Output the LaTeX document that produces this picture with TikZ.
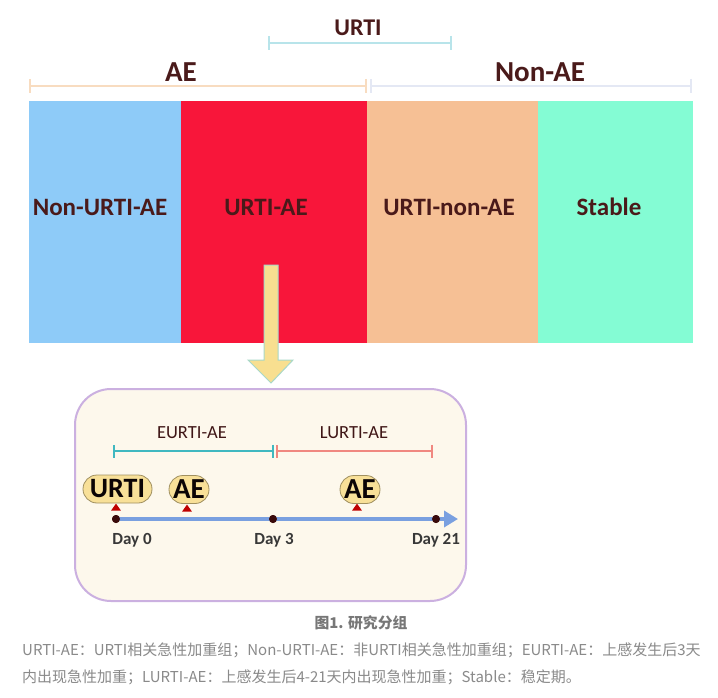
\documentclass[tikz,border=0pt]{standalone}
\usepackage{fontspec}
\setmainfont{Carlito}
\newfontfamily\cjk{Noto Sans CJK SC}
\usetikzlibrary{arrows.meta,shapes.misc,shapes.geometric}
\definecolor{lbl}{HTML}{4A1A1A}
\definecolor{cBlue}{HTML}{8ECBF8}
\definecolor{cRed}{HTML}{F8163A}
\definecolor{cPeach}{HTML}{F6C095}
\definecolor{cMint}{HTML}{84FCD4}
\definecolor{brUrti}{HTML}{B8E4EA}
\definecolor{brAE}{HTML}{F8DCC0}
\definecolor{brNon}{HTML}{E4E8F4}
\definecolor{arrFill}{HTML}{F8DF90}
\definecolor{arrDraw}{HTML}{A8D8C8}
\definecolor{boxFill}{HTML}{FDF8EC}
\definecolor{boxDraw}{HTML}{CBB0E0}
\definecolor{eBr}{HTML}{40B8C0}
\definecolor{lBr}{HTML}{F08880}
\definecolor{tl}{HTML}{7AA0E0}
\definecolor{dotc}{HTML}{3A0A0A}
\definecolor{pillF}{HTML}{F8E098}
\definecolor{pillD}{HTML}{A09060}
\definecolor{capc}{HTML}{777777}
\definecolor{notec}{HTML}{8A8A8A}
\tikzset{
  toplbl/.style={font=\bfseries\fontsize{29}{31}\selectfont, text=lbl, inner sep=0pt},
  barlbl/.style={font=\bfseries\fontsize{25}{27}\selectfont, text=lbl, inner sep=0pt},
  bracket/.style={line width=2.2pt, {Bar[width=14pt]}-{Bar[width=14pt]}},
  sbracket/.style={line width=2pt, {Bar[width=13pt]}-{Bar[width=13pt]}},
  sublbl/.style={font=\fontsize{18.5}{20}\selectfont, text=lbl!85!black, inner sep=0pt},
  pill/.style={rounded rectangle, fill=pillF, draw=pillD, line width=0.8pt, inner sep=0pt, minimum height=28pt, text=black!85!lbl},
  dot/.style={circle, fill=dotc, inner sep=0pt, minimum size=8pt},
  tri/.style={isosceles triangle, isosceles triangle apex angle=70, shape border rotate=90, fill=red!75!black, inner sep=0pt, minimum height=7pt, minimum width=8pt},
  daylbl/.style={font=\bfseries\fontsize{17}{19}\selectfont, text=black!78, inner sep=0pt},
}
\begin{document}
\begin{tikzpicture}[x=1pt,y=-1pt]
\useasboundingbox (0,0) rectangle (718,698);
\fill[white] (0,0) rectangle (718,698);
% top brackets
\coordinate (u1) at (268,43); \coordinate (u2) at (452,43);
\draw[bracket, draw=brUrti] (u1) -- (u2);
\node[toplbl, font=\bfseries\fontsize{24}{26}\selectfont] (lurti) at (358,28) {URTI};
\coordinate (a1) at (29,86); \coordinate (a2) at (367,86);
\draw[bracket, draw=brAE] (a1) -- (a2);
\node[toplbl] (lae) at (181,72.5) {AE};
\coordinate (n1) at (370,86); \coordinate (n2) at (692,86);
\draw[bracket, draw=brNon] (n1) -- (n2);
\node[toplbl] (lnon) at (540,72.5) {Non-AE};
% bars
\fill[cBlue] (29,101) rectangle (181,343);
\fill[cRed] (181,101) rectangle (367,343);
\fill[cPeach] (367,101) rectangle (538,343);
\fill[cMint] (538,101) rectangle (693,343);
\node[barlbl] (b1) at (100,207) {Non-URTI-AE};
\node[barlbl] (b2) at (266,207) {URTI-AE};
\node[barlbl] (b3) at (449,207) {URTI-non-AE};
\node[barlbl] (b4) at (609,207) {Stable};
% down arrow
\draw[fill=arrFill, draw=arrDraw, line width=1pt, line join=miter]
  (264,265) -- (278,265) -- (278,360) -- (293,360) -- (271,383) -- (248,360) -- (264,360) -- cycle;
% detail box
\draw[fill=boxFill, draw=boxDraw, line width=2pt, rounded corners=36pt] (75,389) rectangle (466,601);
\coordinate (e1) at (113,451); \coordinate (e2) at (274,451);
\coordinate (l1) at (276,451); \coordinate (l2) at (433,451);
\draw[sbracket, draw=eBr] (e1) -- (e2);
\draw[sbracket, draw=lBr] (l1) -- (l2);
\node[sublbl] (le) at (192,433) {EURTI-AE};
\node[sublbl] (ll) at (354,433) {LURTI-AE};
% timeline
\node[dot] (d0) at (116,519) {};
\node[dot] (d3) at (273,519) {};
\node[dot] (d21) at (436,519) {};
\coordinate (tend) at (458,519);
\draw[tl, line width=4pt, -{Triangle[length=14pt,width=16pt]}] (d0.center) -- (tend);
\node[dot] at (d0) {};
\node[dot] at (d3) {};
\node[dot] at (d21) {};
\node[tri] (t1) at (116,508) {};
\node[tri] (t2) at (187,509) {};
\node[tri] (t3) at (357,508) {};
\node[pill, minimum width=69pt, font=\bfseries\fontsize{28}{30}\selectfont] (p1) at (117.5,489) {URTI};
\node[pill, minimum width=40pt, font=\bfseries\fontsize{29}{31}\selectfont] (p2) at (189,489.5) {AE};
\node[pill, minimum width=40pt, font=\bfseries\fontsize{29}{31}\selectfont] (p3) at (360,489.5) {AE};
\node[daylbl] (dl0) at (132,540) {Day 0};
\node[daylbl] (dl3) at (274,540) {Day 3};
\node[daylbl] (dl21) at (436,540) {Day 21};
% caption
\node[font=\cjk\bfseries\fontsize{14.8}{16}\selectfont, text=capc, inner sep=0pt] (cap) at (361,623) {图1. 研究分组};
\node[font=\cjk\fontsize{15}{17}\selectfont, text=notec, inner sep=0pt, anchor=west] (note1) at (22,650) {URTI-AE：URTI相关急性加重组；Non-URTI-AE：非URTI相关急性加重组；EURTI-AE：上感发生后3天};
\node[font=\cjk\fontsize{15}{17}\selectfont, text=notec, inner sep=0pt, anchor=west] (note2) at (22,677) {内出现急性加重；LURTI-AE：上感发生后4-21天内出现急性加重；Stable：稳定期。};
\end{tikzpicture}
\end{document}
